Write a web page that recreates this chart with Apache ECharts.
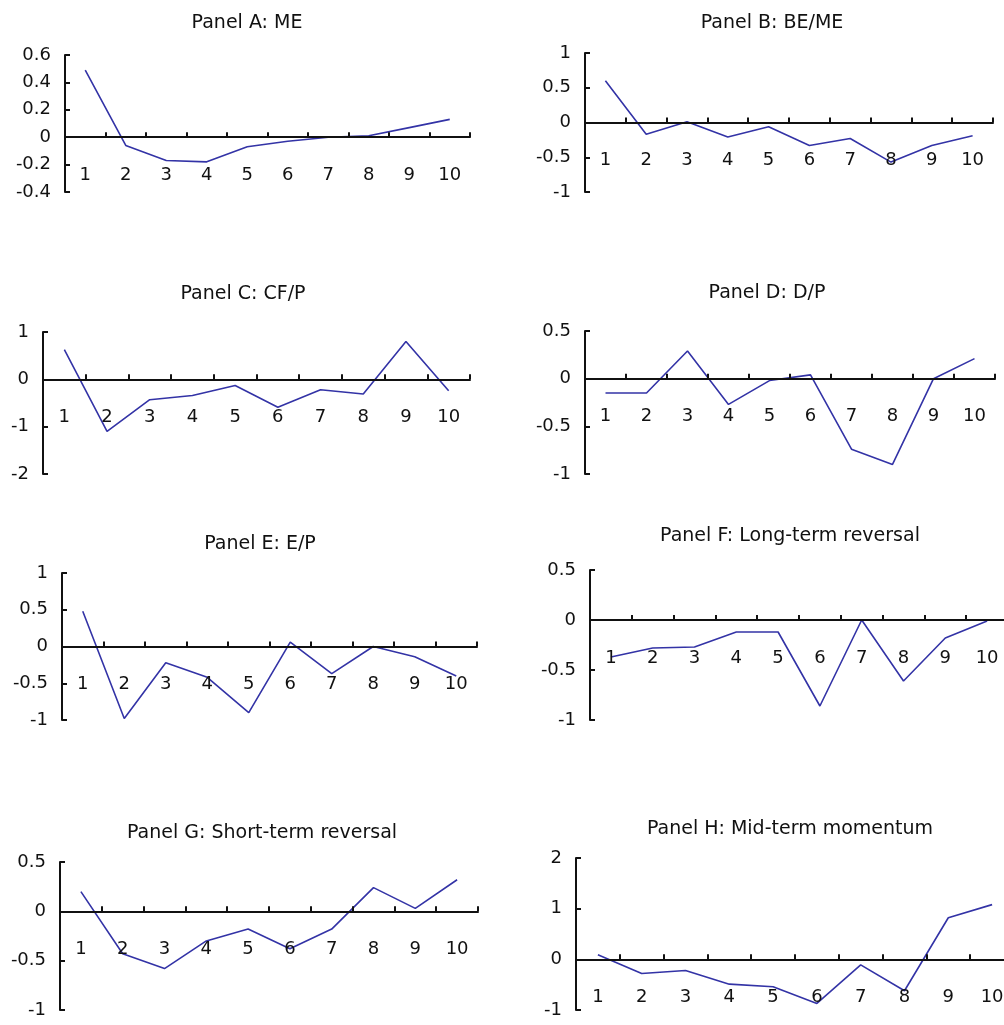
<!DOCTYPE html>
<html>
<head>
<meta charset="utf-8">
<title>Portfolio deciles</title>
<script src="https://cdn.jsdelivr.net/npm/echarts@6/dist/echarts.min.js"></script>
<style>
  html, body { margin: 0; padding: 0; background: #fff; overflow: hidden; }
  #chart { width: 1004px; height: 1025px; }
</style>
</head>
<body>
<div id="chart"></div>
<script>
// Decile labels shared by every panel
const deciles = ['1', '2', '3', '4', '5', '6', '7', '8', '9', '10'];

// Panel values, one per decile
const panelA = [0.49, -0.06, -0.17, -0.18, -0.07, -0.03, 0.0, 0.01, 0.07, 0.13];
const panelB = [0.6, -0.17, 0.01, -0.21, -0.06, -0.33, -0.23, -0.57, -0.33, -0.19];
const panelC = [0.63, -1.1, -0.43, -0.34, -0.13, -0.59, -0.22, -0.31, 0.8, -0.24];
const panelD = [-0.15, -0.15, 0.29, -0.27, -0.02, 0.04, -0.74, -0.9, 0.0, 0.21];
const panelE = [0.48, -0.98, -0.22, -0.42, -0.9, 0.06, -0.37, 0.0, -0.14, -0.4];
const panelF = [-0.37, -0.28, -0.27, -0.12, -0.12, -0.86, 0.0, -0.61, -0.18, -0.01];
const panelG = [0.2, -0.43, -0.58, -0.3, -0.18, -0.38, -0.18, 0.24, 0.03, 0.32];
const panelH = [0.09, -0.28, -0.22, -0.49, -0.54, -0.87, -0.11, -0.62, 0.82, 1.08];

// Panel titles
const titles = [
  'Panel A: ME', 'Panel B: BE/ME', 'Panel C: CF/P', 'Panel D: D/P',
  'Panel E: E/P', 'Panel F: Long-term reversal',
  'Panel G: Short-term reversal', 'Panel H: Mid-term momentum'
];

// Y-axis ranges per panel: [min, max, interval]
const yRanges = [
  [-0.4, 0.6, 0.2], [-1, 1, 0.5], [-2, 1, 1], [-1, 0.5, 0.5],
  [-1, 1, 0.5], [-1, 0.5, 0.5], [-1, 0.5, 0.5], [-1, 2, 1]
];

const seriesData = [panelA, panelB, panelC, panelD, panelE, panelF, panelG, panelH];

// Layout of each plotting area: left, top, width, height (px)
const boxes = [
  [65, 55, 405, 137],
  [585, 53, 408, 139],
  [43, 332, 427, 142],
  [585, 331, 410, 143],
  [62, 573, 415, 147],
  [590, 570, 418, 150],
  [60, 862, 418, 148],
  [576, 858, 438, 152]
];

// Title centre positions (x, y)
const titlePos = [
  [247, 25], [772, 25], [243, 296], [767, 295],
  [260, 546], [790, 538], [262, 835], [790, 831]
];

const FONT = '"DejaVu Sans", Verdana, sans-serif';
const INK = '#111111';
const LINE = '#3333a6';

// Category labels sit a fixed distance below the zero line; the label
// margin is measured from the bottom of the plotting area, so offset it.
const LABEL_GAP = 29;
function labelMargin(i) {
  const [min, max] = yRanges[i];
  const h = boxes[i][3];
  return LABEL_GAP - h * (0 - min) / (max - min);
}

const option = {
  animation: false,
  backgroundColor: '#ffffff',
  title: titles.map((t, i) => ({
    text: t,
    left: titlePos[i][0],
    top: titlePos[i][1] - 11,
    textAlign: 'center',
    padding: 0,
    textStyle: { fontFamily: FONT, fontSize: 19, fontWeight: 'normal', color: INK }
  })),
  grid: boxes.map(b => ({
    left: b[0], top: b[1], width: b[2], height: b[3],
    containLabel: false,
    outerBoundsMode: 'none'
  })),
  xAxis: boxes.map((b, i) => ({
    type: 'category',
    gridIndex: i,
    data: deciles,
    boundaryGap: true,
    z: 3,
    axisLine: { show: true, onZero: true, lineStyle: { color: INK, width: 2 } },
    axisTick: { show: true, inside: true, length: 5, lineStyle: { color: INK, width: 2 } },
    axisLabel: { interval: 0, margin: labelMargin(i), fontFamily: FONT, fontSize: 18, color: INK },
    splitLine: { show: false }
  })),
  yAxis: yRanges.map((r, i) => ({
    type: 'value',
    gridIndex: i,
    min: r[0],
    max: r[1],
    interval: r[2],
    axisLine: { show: true, lineStyle: { color: INK, width: 2 } },
    axisTick: { show: true, inside: true, length: 5, lineStyle: { color: INK, width: 2 } },
    axisLabel: { margin: 14, fontFamily: FONT, fontSize: 18, color: INK },
    splitLine: { show: false }
  })),
  series: seriesData.map((d, i) => ({
    type: 'line',
    name: titles[i],
    xAxisIndex: i,
    yAxisIndex: i,
    data: d,
    symbol: 'none',
    lineStyle: { color: LINE, width: 1.6 },
    z: 2
  }))
};

const chart = echarts.init(document.getElementById('chart'), null, { renderer: 'canvas' });
chart.setOption(option);
</script>
</body>
</html>
